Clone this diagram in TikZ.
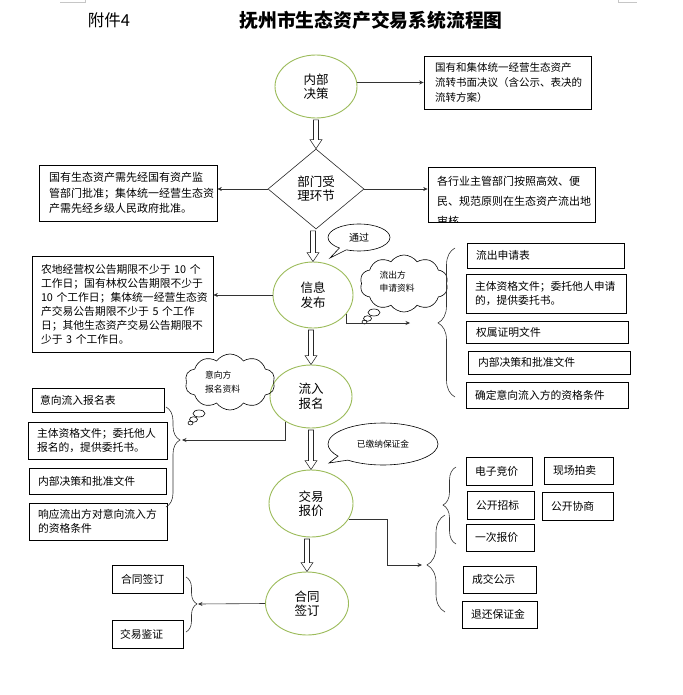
\documentclass[tikz,border=0pt]{standalone}
\usepackage{fontspec}
\setmainfont{Noto Sans CJK SC}
\usetikzlibrary{shapes.geometric,shapes.symbols,shapes.callouts,decorations.pathreplacing,calc,arrows.meta}
\definecolor{ellgreen}{HTML}{9BBB59}
\newcommand{\boxnode}[8][]{%
 \pgfmathsetmacro{\bcx}{(#3+#4)/2}\pgfmathsetmacro{\bcy}{(#5+#6)/2}%
 \pgfmathsetmacro{\bw}{#4-#3}\pgfmathsetmacro{\bh}{#6-#5}\pgfmathsetmacro{\btw}{#4-#3-2*#7}%
 \node[bx, minimum width=\bw pt, minimum height=\bh pt, text width=\btw pt, inner xsep=#7pt, #1] (#2) at (\bcx,\bcy) {#8};}
\newcommand{\harrow}[2]{\draw[harr] let \p1=(#1.south), \p2=(#2.north) in
 (\x2-2.5pt,\y1-1.5pt) -- (\x2-2.5pt,\y2+9pt) -- (\x2-6pt,\y2+9pt) -- (\x2,\y2) -- (\x2+6pt,\y2+9pt) -- (\x2+2.5pt,\y2+9pt) -- (\x2+2.5pt,\y1-1.5pt) -- cycle;}
\begin{document}
\begin{tikzpicture}[x=1pt,y=-1pt,
 ell/.style={ellipse, draw=ellgreen, line width=0.9pt, inner sep=0pt, align=center, font=\fontsize{12.5}{14.5}\selectfont},
 bx/.style={draw=black, line width=0.7pt, align=left, inner ysep=0pt, font=\fontsize{10.8}{15}\selectfont},
 arr/.style={-{Stealth[length=4.5pt,width=4pt]}, line width=0.6pt, draw=black!80},
 harr/.style={draw=black!85, line width=0.6pt, fill=white},
 brc/.style={decorate, line width=0.6pt, draw=black!80},
 bub/.style={draw=black, line width=0.6pt, inner sep=0pt},
 ]
\useasboundingbox (0,0) rectangle (682,695);
% page corner marks
\draw[gray!45, line width=0.5pt] (60,2) -- (85,2) -- (85,0);
\draw[gray!45, line width=0.5pt] (618,0) -- (618,2) -- (637,2);
% titles
\node[font=\fontsize{16.5}{18}\selectfont, inner sep=0pt] (fj) at (109,20) {附件4};
\node[font=\fontsize{18.8}{20}\selectfont\bfseries, inner sep=0pt] (title) at (371,20) {抚州市生态资产交易系统流程图};
% main flow
\node[ell, minimum width=82pt, minimum height=63pt] (e1) at (316,86.5) {内部\\决策};
\node[diamond, draw=black!85, line width=0.6pt, minimum width=96pt, minimum height=80pt, inner sep=0pt, align=center, font=\fontsize{12.5}{14}\selectfont] (d) at (316,189) {部门受\\理环节};
\node[ell, minimum width=80pt, minimum height=66pt] (e2) at (313,295) {信息\\发布};
\node[ell, minimum width=82pt, minimum height=63pt] (e3) at (311,396.5) {流入\\报名};
\node[ell, minimum width=84pt, minimum height=67pt] (e4) at (311,503.5) {交易\\报价};
\node[ell, minimum width=83pt, minimum height=63pt] (e5) at (307,603.5) {合同\\签订};
\harrow{e1}{d}
\harrow{d}{e2}
\harrow{e2}{e3}
\harrow{e3}{e4}
\harrow{e4}{e5}
% boxes
\boxnode[font=\fontsize{10.5}{15}\selectfont]{r1}{424}{591}{56}{109}{11}{国有和集体统一经营生态资产\\流转书面决议（含公示、表决的\\流转方案）}
\boxnode[font=\fontsize{11}{15.5}\selectfont]{l1}{39}{217}{165}{221}{10}{国有生态资产需先经国有资产监\\管部门批准；集体统一经营生态资\\产需先经乡级人民政府批准。}
\node[bx, minimum width=167pt, minimum height=55pt] (r2) at (511.5,194.5) {};
\begin{scope}
\clip (r2.south west) rectangle (r2.north east);
\node[anchor=north west, inner sep=0pt, align=left, font=\fontsize{11}{20}\selectfont] (r2t) at (437,175.5) {各行业主管部门按照高效、便\\民、规范原则在生态资产流出地\\审核};
\end{scope}
\boxnode[font=\fontsize{10.8}{14}\selectfont]{l2}{32}{213}{256}{352}{9}{农地经营权公告期限不少于~10~个\\工作日；国有林权公告期限不少于\\10~个工作日；集体统一经营生态资\\产交易公告期限不少于~5~个工作\\日；其他生态资产交易公告期限不\\少于~3~个工作日。}
% right list
\boxnode{ra}{467}{624}{243}{268}{9}{流出申请表}
\boxnode[font=\fontsize{10.8}{14.5}\selectfont]{rb}{466}{626}{274}{313}{9}{主体资格文件；委托他人申请\\的，提供委托书。}
\boxnode{rc}{466}{628}{321}{343}{10}{权属证明文件}
\boxnode{rd}{468}{630}{351}{374}{10}{内部决策和批准文件}
\boxnode{re}{466}{628}{382}{408}{9}{确定意向流入方的资格条件}
% left list
\boxnode{la}{32}{164}{388}{412}{8}{意向流入报名表}
\boxnode[font=\fontsize{10.8}{14}\selectfont]{lb}{28}{167}{422}{459}{9}{主体资格文件；委托他人\\报名的，提供委托书。}
\boxnode{lc}{29}{166}{468}{494}{9}{内部决策和批准文件}
\boxnode[font=\fontsize{10.8}{14}\selectfont]{ld}{29}{167}{503}{540}{9}{响应流出方对意向流入方\\的资格条件}
% trade boxes
\boxnode{ta}{466}{532}{457}{485}{9}{电子竞价}
\boxnode{tb}{544}{613}{457}{484}{9}{现场拍卖}
\boxnode{tc}{467}{534}{491}{519}{9}{公开招标}
\boxnode{td}{542}{613}{492}{520}{9}{公开协商}
\boxnode{te}{466}{534}{524}{551}{9}{一次报价}
\boxnode{tf}{463}{536}{566}{593}{9}{成交公示}
\boxnode{tg}{462}{537}{601}{628}{9}{退还保证金}
% contract boxes
\boxnode{ba}{112}{183}{565}{593}{9}{合同签订}
\boxnode{bb}{112}{183}{620}{648}{8}{交易鉴证}
% clouds
\node[cloud, bub, cloud puffs=10, cloud puff arc=110, aspect=1.6, minimum width=88pt, minimum height=57pt] (cl1) at (404,283.5) {};
\node[ellipse, bub, minimum width=12pt, minimum height=7pt] (cl1a) at (374,312.5) {};
\node[ellipse, bub, minimum width=8pt, minimum height=5.5pt] (cl1b) at (367.5,318.5) {};
\node[ellipse, bub, minimum width=5pt, minimum height=4pt] (cl1c) at (364.5,322) {};
\node[font=\fontsize{8.75}{13}\selectfont, align=left, inner sep=0pt] (cl1t) at (397,281.5) {流出方\\申请资料};
\node[cloud, bub, cloud puffs=10, cloud puff arc=110, aspect=1.6, minimum width=90pt, minimum height=56pt] (cl2) at (230,382) {};
\node[ellipse, bub, minimum width=12pt, minimum height=7pt] (cl2a) at (199,413.5) {};
\node[ellipse, bub, minimum width=8pt, minimum height=5.5pt] (cl2b) at (193.5,419.5) {};
\node[ellipse, bub, minimum width=5pt, minimum height=4pt] (cl2c) at (190.5,423) {};
\node[font=\fontsize{8.75}{14}\selectfont, align=left, inner sep=0pt] (cl2t) at (222.5,382.5) {意向方\\报名资料};
% speech bubbles
\coordinate (p1) at (330,258);
\node[ellipse callout, bub, minimum width=62pt, minimum height=27pt, callout absolute pointer=(p1), font=\fontsize{10}{12}\selectfont] (t1) at (359,237.5) {通过};
\coordinate (p2) at (329,463);
\node[ellipse callout, bub, minimum width=110pt, minimum height=42pt, callout absolute pointer=(p2), font=\fontsize{8.7}{10}\selectfont] (t2) at (383,444) {已缴纳保证金};
% connectors
\draw[arr] (e1.east |- r1.west) -- (r1.west);
\draw[arr] (d.west) -- (d.west -| l1.east);
\draw[arr] (d.east) -- (d.east -| r2.west);
\draw[arr] (e2.west) -- (e2.west -| l2.east);
\coordinate (c1) at (410,323);
\draw[arr] (e2.-30) |- (c1);
\coordinate (c2) at (182,440);
\draw[arr] (e3.-135) |- (c2);
\coordinate (c3) at (422,565);
\draw[arr] (e4.-22) -- ++(38,0) |- (c3);
\coordinate (c4) at (198,604);
\draw[arr] (e5.west) -- (c4);
% braces
\draw[brc, decoration={brace, amplitude=17pt, aspect=0.497}] (455,397) -- (455,248);
\draw[brc, decoration={brace, amplitude=14pt, aspect=0.33}] (166,407) -- (166,507);
\draw[brc, decoration={brace, amplitude=18pt, aspect=0.485}] (445,612) -- (445,515);
\draw[brc, decoration={brace, amplitude=13pt, aspect=0.506}] (456,544) -- (456,467);
\draw[brc, decoration={brace, amplitude=11pt, aspect=0.49}] (186,577) -- (186,632);
\end{tikzpicture}
\end{document}
